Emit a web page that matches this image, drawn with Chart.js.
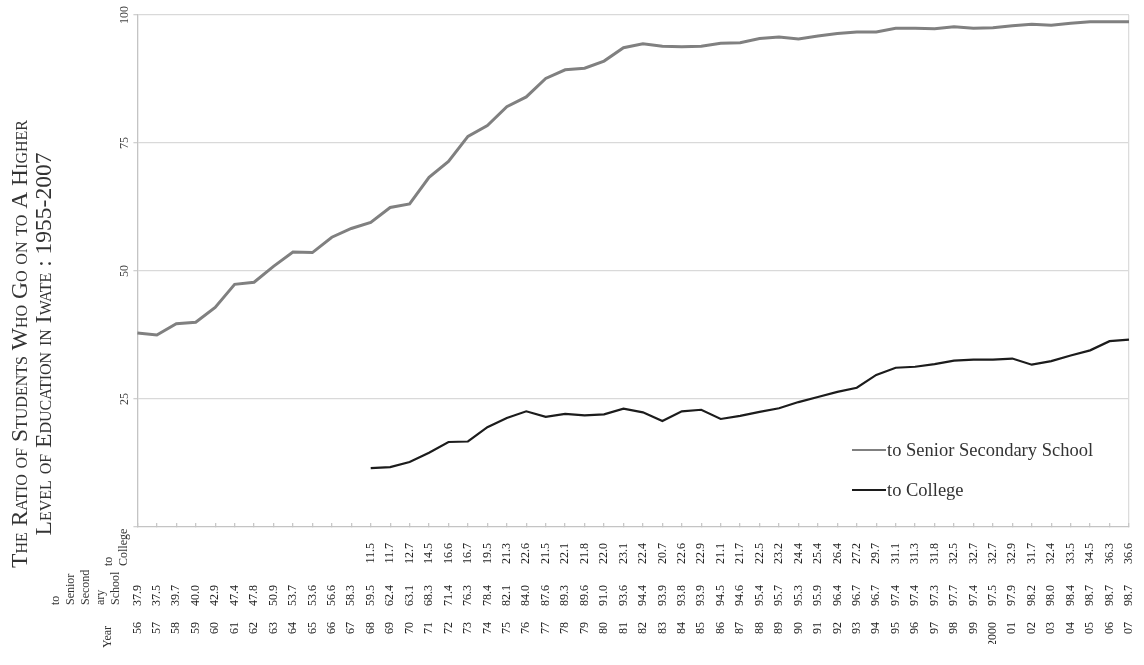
<!DOCTYPE html>
<html>
<head>
<meta charset="utf-8">
<script src="https://cdn.jsdelivr.net/npm/chart.js@4.4.1/dist/chart.umd.min.js"></script>
<style>
  html, body { margin: 0; padding: 0; background: #fff; }
  #wrap { width: 1144px; height: 665px; position: relative; }
</style>
</head>
<body>
<div id="wrap"><canvas id="chart"></canvas></div>
<script>
const years = ['56','57','58','59','60','61','62','63','64','65','66','67','68','69','70','71','72','73','74','75',
  '76','77','78','79','80','81','82','83','84','85','86','87','88','89','90','91','92','93','94','95',
  '96','97','98','99','2000','01','02','03','04','05','06','07']
const senior = [37.9,37.5,39.7,40.0,42.9,47.4,47.8,50.9,53.7,53.6,56.6,58.3,
  59.5,62.4,63.1,68.3,71.4,76.3,78.4,82.1,84.0,87.6,89.3,89.6,
  91.0,93.6,94.4,93.9,93.8,93.9,94.5,94.6,95.4,95.7,95.3,95.9,
  96.4,96.7,96.7,97.4,97.4,97.3,97.7,97.4,97.5,97.9,98.2,98.0,
  98.4,98.7,98.7,98.7]
const college = [null,null,null,null,null,null,null,null,null,null,null,null,
  11.5,11.7,12.7,14.5,16.6,16.7,19.5,21.3,22.6,21.5,22.1,21.8,
  22.0,23.1,22.4,20.7,22.6,22.9,21.1,21.7,22.5,23.2,24.4,25.4,
  26.4,27.2,29.7,31.1,31.3,31.8,32.5,32.7,32.7,32.9,31.7,32.4,
  33.5,34.5,36.3,36.6]
const yTicks = [25, 50, 75, 100]
const titleLines = ['The Ratio of Students Who Go on to A Higher', 'Level of Education in Iwate : 1955-2007']
const seriesNames = ['to Senior Secondary School', 'to College']
const rowHeads = { college: ['to', 'College'], senior: ['to', 'Senior', 'Second', 'ary', 'School'], year: ['Year'] }

const SERIF = "'Liberation Serif', 'DejaVu Serif', serif"
const fmt1 = v => v == null ? '' : v.toFixed(1)

// vertical axis title in small caps, centred on the whole figure like the original
const sideTitle = {
  id: 'sideTitle',
  afterDraw(chart) {
    const { ctx } = chart
    ctx.save()
    ctx.font = 'small-caps 23.5px ' + SERIF
    ctx.fillStyle = '#333'
    ctx.textAlign = 'center'
    ctx.textBaseline = 'middle'
    titleLines.forEach((t, i) => {
      ctx.save()
      ctx.translate(21 + i * 24, 344)
      ctx.rotate(-Math.PI / 2)
      ctx.fillText(t, 0, 0)
      ctx.restore()
    })
    ctx.restore()
  }
}

// row headers for the data table, drawn left of the axis
const tableHeads = {
  id: 'tableHeads',
  afterDraw(chart) {
    const { ctx, chartArea, scales } = chart
    ctx.save()
    ctx.font = '12px ' + SERIF
    ctx.fillStyle = '#333'
    ctx.textAlign = 'left'
    ctx.textBaseline = 'middle'
    const put = (lines, xLast, yBottom) => {
      lines.forEach((t, i) => {
        const x = xLast - (lines.length - 1 - i) * 15
        ctx.save()
        ctx.translate(x, yBottom)
        ctx.rotate(-Math.PI / 2)
        ctx.fillText(t, 0, 0)
        ctx.restore()
      })
    }
    put(rowHeads.college, chartArea.left - 14, scales.x.top + 39)
    put(rowHeads.senior, chartArea.left - 22, scales.x2.top + 34)
    put(rowHeads.year, chartArea.left - 30, scales.x3.top + 40)
    ctx.restore()
  }
}

// legend sits inside the plot, lower right
const innerLegend = {
  id: 'innerLegend',
  afterDraw(chart) {
    const { ctx, chartArea } = chart
    ctx.save()
    ctx.font = '18.5px ' + SERIF
    ctx.textAlign = 'left'
    ctx.textBaseline = 'middle'
    chart.data.datasets.forEach((ds, i) => {
      const x = chartArea.right - 277
      const y = chartArea.bottom - 77 + i * 40
      ctx.strokeStyle = ds.borderColor
      ctx.lineWidth = 2
      ctx.beginPath(); ctx.moveTo(x, y); ctx.lineTo(x + 34, y); ctx.stroke()
      ctx.fillStyle = '#333'
      ctx.fillText(ds.label, x + 35, y + 1)
    })
    ctx.restore()
  }
}

// fixed row height; keep the rotated labels from widening the right margin
const rowFit = h => s => { s.height = h; s.paddingRight = 15 }

const rowTicks = (vals, pad, weight, h) => ({
  type: 'category',
  position: 'bottom',
  weight,
  grid: { display: false },
  border: { display: false },
  afterFit: rowFit(h),
  ticks: {
    autoSkip: false, minRotation: 90, maxRotation: 90, padding: pad,
    color: '#222', font: { family: SERIF, size: 12 },
    callback: (v, i) => vals[i]
  }
})

new Chart(document.getElementById('chart'), {
  type: 'line',
  data: {
    labels: years,
    datasets: [
      { label: seriesNames[0], data: senior, borderColor: '#808080', borderWidth: 3, pointRadius: 0, tension: 0 },
      { label: seriesNames[1], data: college, borderColor: '#1c1c1c', borderWidth: 2.2, pointRadius: 0, tension: 0 },
    ],
  },
  options: {
    responsive: true,
    maintainAspectRatio: false,
    animation: false,
    layout: { padding: { top: 15, right: 0, bottom: 21, left: 119 } },
    plugins: {
      legend: { display: false },
      tooltip: { enabled: false },
      title: { display: false },
    },
    scales: {
      y: {
        min: 0, max: 100,
        afterBuildTicks: s => { s.ticks = [0, ...yTicks].map(v => ({ value: v })) },
        grid: { color: c => c.tick.value === 0 ? 'transparent' : '#d9d9d9', lineWidth: 1.3, tickLength: 4, tickColor: '#d0d0d0' },
        border: { color: '#c4c4c4', width: 1.3 },
        ticks: {
          minRotation: 90, maxRotation: 90, crossAlign: 'center', padding: 0,
          color: '#444', font: { family: SERIF, size: 12 },
          callback: v => v === 0 ? '' : v,
        },
      },
      x: {
        type: 'category',
        position: 'bottom',
        weight: 0,
        afterFit: rowFit(44),
        grid: {
          drawOnChartArea: true,
          color: c => c.index === years.length - 1 ? '#dcdcdc' : 'transparent',
          tickColor: '#c8c8c8', tickLength: -4, lineWidth: 1.3,
        },
        border: { color: '#c4c4c4', width: 1.3 },
        ticks: {
          autoSkip: false, minRotation: 90, maxRotation: 90, padding: 20,
          color: '#222', font: { family: SERIF, size: 12 },
          callback: (v, i) => fmt1(college[i]),
        },
      },
      x2: rowTicks(senior.map(fmt1), 6, 1, 37),
      x3: rowTicks(years, 6, 2, 36),
    },
  },
  plugins: [sideTitle, tableHeads, innerLegend],
})
</script>
</body>
</html>
